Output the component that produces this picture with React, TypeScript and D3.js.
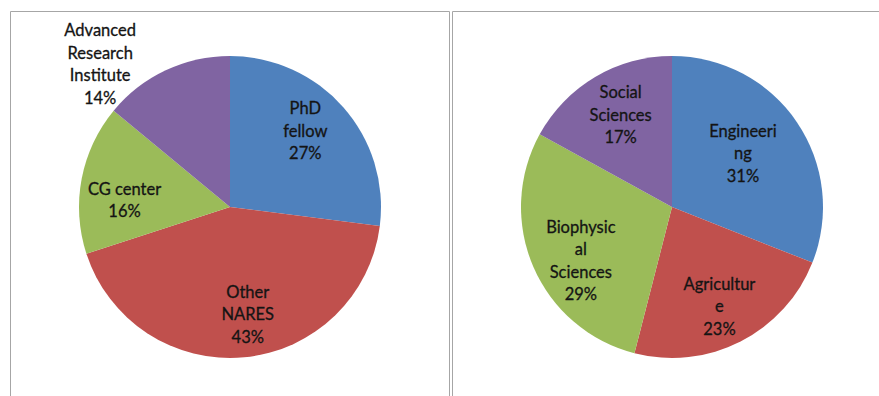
import * as d3 from "d3";

// left chart: position of respondents
const posCategories = ["PhD fellow", "Other NARES", "CG center", "Advanced Research Institute"];
const posValues = [27, 43, 16, 14];
const posLines = [["PhD", "fellow"], ["Other", "NARES"], ["CG center"], ["Advanced", "Research", "Institute"]];

// right chart: discipline
const discCategories = ["Engineering", "Agriculture", "Biophysical Sciences", "Social Sciences"];
const discValues = [31, 23, 29, 17];
const discLines = [["Engineeri", "ng"], ["Agricultur", "e"], ["Biophysic", "al", "Sciences"], ["Social", "Sciences"]];

const sliceColors = ["#4f81bd", "#c0504d", "#9bbb59", "#8064a2"];

// label placement (fraction of radius, angle shift in degrees), like Excel's best fit
const posLabelPlace = [
  { k: 0.71, shift: -4 },
  { k: 0.72, shift: -4 },
  { k: 0.7, shift: -7 },
  { k: 1.28, shift: -17 },
];
const discLabelPlace = [
  { k: 0.59, shift: -3 },
  { k: 0.73, shift: 1.5 },
  { k: 0.7, shift: -7 },
  { k: 0.7, shift: 1.5 },
];

const W = 879;
const H = 396;
const R = 151;
const LINE_H = 22.5;

type PieProps = {
  cx: number;
  cy: number;
  cats: string[];
  values: number[];
  lines: string[][];
  place: { k: number; shift: number }[];
};

function Pie({ cx, cy, cats, values, lines, place }: PieProps) {
  const pie = d3.pie<number>().sort(null).value((d) => d);
  const arcs = pie(values);
  const arc = d3.arc<d3.PieArcDatum<number>>().innerRadius(0).outerRadius(R);
  const total = d3.sum(values);

  return (
    <g transform={`translate(${cx},${cy})`}>
      {arcs.map((a, i) => (
        <path key={cats[i]} d={arc(a) ?? ""} fill={sliceColors[i]} />
      ))}
      {arcs.map((a, i) => {
        const mid = (a.startAngle + a.endAngle) / 2 + (place[i].shift * Math.PI) / 180;
        const rr = R * place[i].k;
        const x = rr * Math.sin(mid);
        const y = -rr * Math.cos(mid);
        const text = [...lines[i], `${Math.round((values[i] / total) * 100)}%`];
        const y0 = y - ((text.length - 1) * LINE_H) / 2;
        return (
          <text
            key={"l" + cats[i]}
            x={x}
            y={y0}
            textAnchor="middle"
            dominantBaseline="central"
            fontFamily="Lato, 'Open Sans', sans-serif"
            fontSize={16.5}
            fill="#141414"
            stroke="#141414"
            strokeWidth={0.3}
          >
            {text.map((t, j) => (
              <tspan key={j} x={x} y={y0 + j * LINE_H}>
                {t}
              </tspan>
            ))}
          </text>
        );
      })}
    </g>
  );
}

export default function App() {
  return (
    <svg
      width={W}
      height={H}
      style={{ position: "absolute", left: 0, top: 0, display: "block", background: "#fff" }}
    >
      <path d={`M10.5,${H} V11.5 H449.5 V${H}`} fill="none" stroke="#a6a6a6" strokeWidth={1} />
      <path d={`M452.5,${H} V11.5 H${W}`} fill="none" stroke="#a6a6a6" strokeWidth={1} />
      <Pie cx={230} cy={207} cats={posCategories} values={posValues} lines={posLines} place={posLabelPlace} />
      <Pie cx={672} cy={207} cats={discCategories} values={discValues} lines={discLines} place={discLabelPlace} />
    </svg>
  );
}
